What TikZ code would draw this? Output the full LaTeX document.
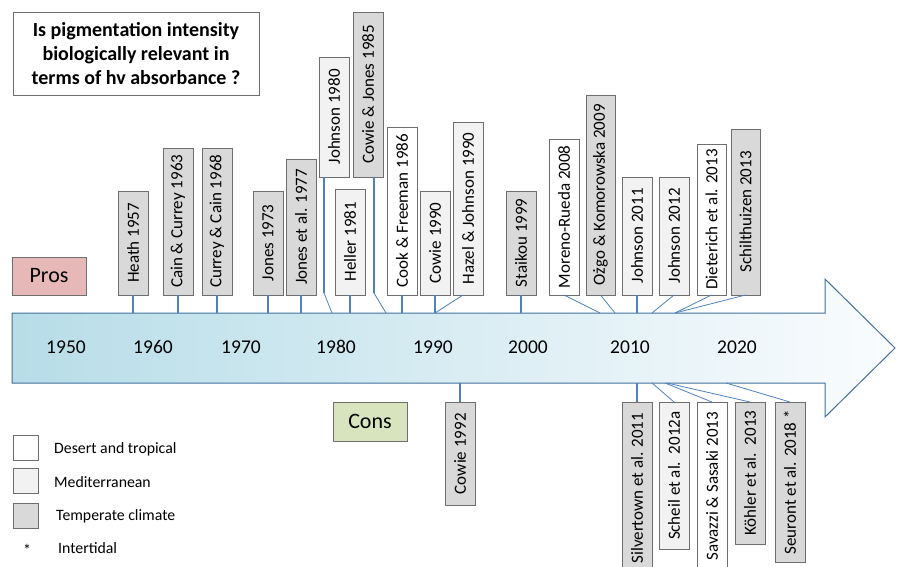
\documentclass[tikz,border=0pt]{standalone}
\usepackage{fontspec}
\setmainfont{Carlito}
\definecolor{tempc}{HTML}{D9D9D9}
\definecolor{medc}{HTML}{F2F2F2}
\definecolor{desc}{HTML}{FFFFFF}
\definecolor{prosc}{HTML}{E6B9B8}
\definecolor{consc}{HTML}{D7E4BD}
\definecolor{linkc}{HTML}{4F81BD}
\definecolor{arrowc}{HTML}{41719C}
\definecolor{boxline}{HTML}{6E6E6E}
\definecolor{axisleft}{HTML}{B7DDE8}
\definecolor{axisright}{HTML}{FAFCFE}
\begin{document}
\begin{tikzpicture}[x=1pt,y=-1pt,
  ref/.style={draw=boxline, rotate=90, minimum height=29.5pt, inner sep=0pt, font=\fontsize{17}{19}\selectfont},
  link/.style={draw=linkc, line width=1.8pt},
  slant/.style={draw=linkc, line width=0.8pt},
  year/.style={font=\fontsize{19.5}{22}\selectfont},
  legbox/.style={draw=boxline, minimum size=25pt, inner sep=0pt},
  legtext/.style={anchor=west, inner sep=0pt, font=\fontsize{15.8}{18}\selectfont}]
\useasboundingbox (0,0) rectangle (898,566);
\clip (0,0) rectangle (898,566);

% time axis
\draw[draw=arrowc, line width=1pt, left color=axisleft, right color=axisright]
  (12,313) -- (825,313) -- (825,279) -- (895,348) -- (825,417) -- (825,383) -- (12,383) -- cycle;
\node[year] (y50) at (66,347) {1950};
\node[year] (y60) at (153,347) {1960};
\node[year] (y70) at (241,347) {1970};
\node[year] (y80) at (336,347) {1980};
\node[year] (y90) at (433,347) {1990};
\node[year] (y00) at (528,347) {2000};
\node[year] (y10) at (630,347) {2010};
\node[year] (y20) at (737,347) {2020};

% title, pros and cons
\node[draw=boxline, minimum width=246pt, minimum height=83pt, align=center,
  font=\bfseries\fontsize{20}{24}\selectfont] (title) at (136,53.5)
  {Is pigmentation intensity\\biologically relevant in\\terms of hv absorbance ?};
\node[draw=boxline, fill=prosc, minimum width=74pt, minimum height=38pt,
  font=\fontsize{22}{24}\selectfont] (pros) at (49,276) {Pros};
\node[draw=boxline, fill=consc, minimum width=74pt, minimum height=39pt,
  font=\fontsize{22}{24}\selectfont] (cons) at (370,421.5) {Cons};

% points on the axis
\coordinate (a57) at (133,313);
\coordinate (a63) at (178,313);
\coordinate (a68) at (217,313);
\coordinate (a73) at (268,313);
\coordinate (a77) at (301,313);
\coordinate (a80) at (332,313);
\coordinate (a81) at (350,313);
\coordinate (a85) at (386,313);
\coordinate (a86) at (402,313);
\coordinate (a90) at (435,313);
\coordinate (a99) at (521,313);
\coordinate (a08) at (600,313);
\coordinate (a09) at (615,313);
\coordinate (a11) at (637,313);
\coordinate (a12) at (652,313);
\coordinate (a13) at (675,313);
\coordinate (b92) at (460,383);
\coordinate (b11) at (637,383);
\coordinate (b12) at (652,383);
\coordinate (b13) at (665,383);
\coordinate (c13) at (667,383);
\coordinate (b18) at (726,383);

% pros
\node[ref, fill=tempc, minimum width=104pt, anchor=west] (heath) at (133,295) {Heath 1957};
\node[ref, fill=tempc, minimum width=147pt, anchor=west] (cain) at (178,295) {Cain \& Currey 1963};
\node[ref, fill=tempc, minimum width=147pt, anchor=west] (currey) at (217,295) {Currey \& Cain 1968};
\node[ref, fill=tempc, minimum width=104pt, anchor=west] (jones) at (268,295) {Jones 1973};
\node[ref, fill=tempc, minimum width=136pt, anchor=west] (joneset) at (301,295) {Jones et al. 1977};
\node[ref, fill=medc, minimum width=120pt, anchor=west] (johnsonA) at (334,177) {Johnson 1980};
\node[ref, fill=medc, minimum width=106pt, anchor=west] (heller) at (350,295) {Heller 1981};
\node[ref, fill=tempc, minimum width=165pt, anchor=west] (cowiejones) at (368,177) {Cowie \& Jones 1985};
\node[ref, fill=desc, minimum width=168pt, anchor=west] (cook) at (402,295) {Cook \& Freeman 1986};
\node[ref, fill=medc, minimum width=104pt, anchor=west] (cowieA) at (435,295) {Cowie 1990};
\node[ref, fill=medc, minimum width=173pt, anchor=west] (hazel) at (468,295) {Hazel \& Johnson 1990};
\node[ref, fill=tempc, minimum width=104pt, anchor=west] (staikou) at (521,295) {Staikou 1999};
\node[ref, fill=desc, minimum width=156pt, anchor=west] (moreno) at (564,295) {Moreno-Rueda 2008};
\node[ref, fill=tempc, minimum width=200pt, anchor=west] (ozgo) at (600.5,295) {Ożgo \& Komorowska 2009};
\node[ref, fill=medc, minimum width=118pt, anchor=west] (johnsonB) at (637,295) {Johnson 2011};
\node[ref, fill=medc, minimum width=118pt, anchor=west] (johnsonC) at (674,295) {Johnson 2012};
\node[ref, fill=desc, minimum width=151pt, anchor=west] (dieterich) at (711.5,295) {Dieterich et al. 2013};
\node[ref, fill=tempc, minimum width=166pt, anchor=west] (schilt) at (745.5,295) {Schilthuizen 2013};

\draw[link] (heath.west) -- (a57);
\draw[link] (cain.west) -- (a63);
\draw[link] (currey.west) -- (a68);
\draw[link] (jones.west) -- (a73);
\draw[link] (joneset.west) -- (a77);
\draw[link] ([xshift=-10pt]johnsonA.west) -- ++(0,116) coordinate (k80);
\draw[slant] (k80) -- (a80);
\draw[link] (heller.west) -- (a81);
\draw[link] ([xshift=6pt]cowiejones.west) -- ++(0,116) coordinate (k85);
\draw[slant] (k85) -- (a85);
\draw[link] (cook.west) -- (a86);
\draw[link] (cowieA.west) -- (a90);
\draw[slant] ([xshift=-5pt]hazel.west) -- (a90);
\draw[link] (staikou.west) -- (a99);
\draw[slant] (moreno.west) -- (a08);
\draw[slant] (ozgo.west) -- (a09);
\draw[link] (johnsonB.west) -- (a11);
\draw[slant] (johnsonC.west) -- (a12);
\draw[slant] (dieterich.west) -- (a13);
\draw[slant] (schilt.west) -- (a13);

% cons
\node[ref, fill=tempc, minimum width=103pt, anchor=east] (cowieB) at (460,402) {Cowie 1992};
\node[ref, fill=tempc, minimum width=172pt, anchor=east] (silvertown) at (637,402) {Silvertown et al. 2011};
\node[ref, fill=medc, minimum width=147pt, anchor=east] (scheil) at (674,402) {Scheil et al.\ \ 2012a};
\node[ref, fill=desc, minimum width=168pt, anchor=east] (savazzi) at (712,402) {Savazzi \& Sasaki 2013};
\node[ref, fill=tempc, minimum width=142pt, anchor=east] (kohler) at (750,402) {Köhler et al.\ \ 2013};
\node[ref, fill=tempc, minimum width=160pt, anchor=east] (seuront) at (790,402) {Seuront et al. 2018 *};

\draw[link] (b92) -- (cowieB.east);
\draw[link] (b11) -- (silvertown.east);
\draw[slant] (b12) -- (scheil.east);
\draw[slant] (b13) -- (savazzi.east);
\draw[slant] (c13) -- (kohler.east);
\draw[slant] (b18) -- (seuront.east);

% legend
\node[legbox, fill=desc] (ldes) at (25.5,447.5) {};
\node[legbox, fill=medc] (lmed) at (25.5,480.5) {};
\node[legbox, fill=tempc] (ltem) at (25.5,515.5) {};
\node[font=\fontsize{15.8}{18}\selectfont] (lstar) at (27,550) {*};
\node[legtext] (tdes) at (54,449) {Desert and tropical};
\node[legtext] (tmed) at (54,482) {Mediterranean};
\node[legtext] (ttem) at (56,516) {Temperate climate};
\node[legtext] (tint) at (58,548) {Intertidal};
\end{tikzpicture}
\end{document}
